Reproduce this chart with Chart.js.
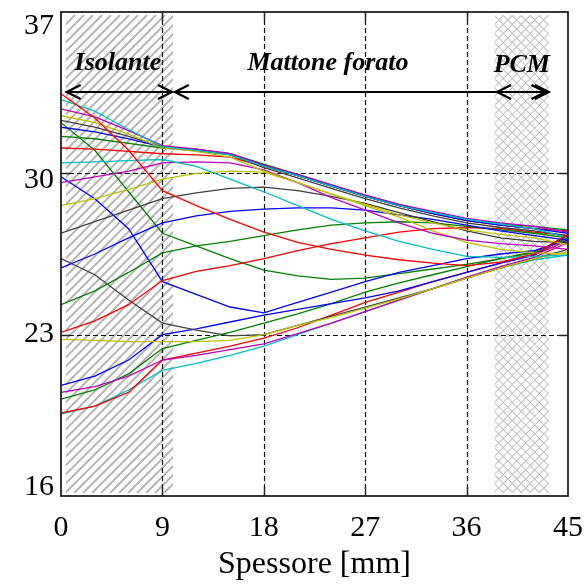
<!DOCTYPE html>
<html>
<head>
<meta charset="utf-8">
<title>Profili di temperatura nella parete</title>
<script src="https://cdn.jsdelivr.net/npm/chart.js@4.4.1/dist/chart.umd.min.js"></script>
<style>
  body { margin: 0; background: #fff; }
  #wrap { width: 586px; height: 585px; }
</style>
</head>
<body>
<div id="wrap"><canvas id="profiliChart" width="586" height="585"></canvas></div>
<script>
// ============================
// Data
// ============================
const spessore = [0, 3, 6, 9, 12, 15, 18, 21, 24, 27, 30, 33, 36, 39, 42, 45];
const xTicks = [0, 9, 18, 27, 36, 45];
const yTicks = [16, 23, 30, 37];

const colori = [
  "#ff0000", "#00bfbf", "#bf00bf", "#bfbf00", "#404040", "#0000ff", "#008000", "#ff0000",
  "#00bfbf", "#bf00bf", "#bfbf00", "#404040", "#0000ff", "#008000", "#ff0000", "#bfbf00",
  "#404040", "#0000ff", "#008000", "#0000ff", "#bf00bf", "#008000", "#ff0000", "#00bfbf"
];

// one temperature profile per hour, values at each node of spessore
const profili = [
  [33.45, 32.4, 31.0, 29.25, 28.6, 28.0, 27.45, 27.0, 26.7, 26.45, 26.25, 26.1, 26.0, 26.15, 26.5, 27.35],
  [33.2, 32.7, 31.9, 31.15, 31.0, 30.8, 30.3, 29.9, 29.45, 29.0, 28.6, 28.3, 28.0, 27.8, 27.6, 27.2],
  [32.8, 32.45, 31.85, 31.2, 31.05, 30.85, 30.35, 29.95, 29.5, 29.05, 28.65, 28.35, 28.05, 27.85, 27.7, 27.45],
  [32.5, 32.2, 31.7, 31.1, 30.95, 30.7, 30.1, 29.6, 29.1, 28.65, 28.2, 27.85, 27.55, 27.35, 27.2, 26.9],
  [32.3, 32.0, 31.6, 31.15, 31.0, 30.8, 30.25, 29.8, 29.35, 28.9, 28.5, 28.15, 27.85, 27.65, 27.5, 27.3],
  [32.0, 31.8, 31.5, 31.15, 31.05, 30.85, 30.35, 29.9, 29.45, 29.0, 28.6, 28.25, 27.95, 27.75, 27.6, 27.4],
  [31.6, 31.5, 31.3, 31.1, 31.0, 30.85, 30.4, 29.95, 29.5, 29.05, 28.65, 28.3, 28.0, 27.8, 27.7, 27.55],
  [31.1, 31.05, 30.95, 30.85, 30.8, 30.7, 30.3, 29.9, 29.45, 29.0, 28.6, 28.25, 27.95, 27.75, 27.6, 27.5],
  [30.45, 30.5, 30.55, 30.6, 30.3, 29.75, 29.2, 28.6, 28.0, 27.5, 27.05, 26.7, 26.4, 26.35, 26.4, 26.45],
  [29.6, 29.85, 30.1, 30.45, 30.5, 30.45, 30.15, 29.6, 28.95, 28.4, 27.85, 27.4, 27.1, 26.95, 26.85, 26.7],
  [28.6, 28.9, 29.3, 29.75, 30.0, 30.1, 30.05, 29.6, 29.1, 28.6, 28.1, 27.5, 27.0, 26.7, 26.55, 26.5],
  [27.4, 27.9, 28.4, 28.9, 29.15, 29.35, 29.4, 29.25, 29.0, 28.7, 28.3, 27.9, 27.5, 27.2, 27.05, 27.0],
  [25.9, 26.5, 27.2, 27.85, 28.15, 28.35, 28.45, 28.5, 28.5, 28.4, 28.2, 28.0, 27.75, 27.5, 27.3, 27.1],
  [24.3, 24.9, 25.7, 26.55, 26.85, 27.05, 27.3, 27.55, 27.75, 27.85, 27.9, 27.85, 27.7, 27.55, 27.4, 27.2],
  [23.1, 23.6, 24.3, 25.35, 25.75, 26.0, 26.3, 26.65, 26.95, 27.2, 27.45, 27.6, 27.65, 27.6, 27.45, 27.3],
  [22.8, 22.75, 22.7, 22.7, 22.7, 22.75, 23.0, 23.4, 23.75, 24.15, 24.55, 25.0, 25.45, 25.9, 26.3, 26.6],
  [26.3, 25.6, 24.5, 23.5, 23.2, 22.95, 23.0, 23.4, 23.8, 24.2, 24.6, 25.0, 25.45, 25.9, 26.3, 26.7],
  [29.85, 28.9, 27.6, 25.3, 24.75, 24.2, 23.95, 24.4, 24.85, 25.3, 25.7, 26.0, 26.3, 26.5, 26.65, 27.1],
  [32.2, 31.0, 29.2, 27.4, 26.85, 26.3, 25.8, 25.55, 25.4, 25.45, 25.65, 25.85, 26.05, 26.3, 26.55, 27.2],
  [20.8, 21.2, 21.9, 23.0, 23.25, 23.55, 23.85, 24.1, 24.35, 24.6, 24.9, 25.3, 25.7, 26.1, 26.45, 27.3],
  [20.5, 20.75, 21.2, 21.9, 22.1, 22.35, 22.6, 23.05, 23.5, 24.0, 24.5, 25.0, 25.5, 25.95, 26.35, 27.0],
  [20.2, 20.6, 21.3, 22.4, 22.75, 23.1, 23.5, 23.9, 24.35, 24.85, 25.25, 25.6, 25.95, 26.3, 26.6, 27.2],
  [19.6, 19.9, 20.5, 21.9, 22.2, 22.5, 22.85, 23.3, 23.85, 24.4, 24.85, 25.3, 25.7, 26.1, 26.45, 27.1],
  [19.55, 19.9, 20.6, 21.45, 21.75, 22.1, 22.5, 23.0, 23.5, 24.0, 24.5, 25.0, 25.45, 25.9, 26.25, 26.45]
];

// ============================
// Wall layers (mm) and labels
// ============================
const isolante = [0.45, 9.95];
const pcm = [38.5, 43.3];
const strati = [
  { nome: "Isolante", x: 5.05, from: 0.5, to: 9.85 },
  { nome: "Mattone forato", x: 23.7, from: 10.1, to: 43.0 },
  { nome: "PCM", x: 40.9, from: 38.7, to: 43.3 }
];

const serif = "'Liberation Serif', 'Times New Roman', serif";

// ============================
// Helpers
// ============================
function drawArrow(ctx, xa, xb, y, size) {
  ctx.beginPath();
  ctx.moveTo(xa, y);
  ctx.lineTo(xb, y);
  ctx.moveTo(xa + size, y - size / 2);
  ctx.lineTo(xa, y);
  ctx.lineTo(xa + size, y + size / 2);
  ctx.moveTo(xb - size, y - size / 2);
  ctx.lineTo(xb, y);
  ctx.lineTo(xb - size, y + size / 2);
  ctx.stroke();
}

const wallPlugin = {
  id: "wall",
  beforeDatasetsDraw(chart) {
    const { ctx, chartArea: a, scales: { x, y } } = chart;
    const top = a.top + 3, bot = a.bottom - 3, h = bot - top;

    // insulation: diagonal stripes
    const i0 = x.getPixelForValue(isolante[0]), i1 = x.getPixelForValue(isolante[1]);
    ctx.save();
    ctx.beginPath();
    ctx.rect(i0, top, i1 - i0, h);
    ctx.clip();
    ctx.strokeStyle = "#b4b4b4";
    ctx.lineWidth = 2;
    ctx.beginPath();
    for (let k = i0 - h; k < i1 + 10; k += 9) {
      ctx.moveTo(k, bot);
      ctx.lineTo(k + h, top);
    }
    ctx.stroke();
    ctx.restore();

    // PCM: cross hatch
    const p0 = x.getPixelForValue(pcm[0]), p1 = x.getPixelForValue(pcm[1]);
    ctx.save();
    ctx.beginPath();
    ctx.rect(p0, top, p1 - p0, h);
    ctx.clip();
    ctx.strokeStyle = "#c4c4c4";
    ctx.lineWidth = 1.2;
    ctx.beginPath();
    for (let k = p0 - h; k < p1 + 10; k += 9) {
      ctx.moveTo(k, bot);
      ctx.lineTo(k + h, top);
      ctx.moveTo(k, top);
      ctx.lineTo(k + h, bot);
    }
    ctx.stroke();
    ctx.restore();

    // dashed grid
    ctx.save();
    ctx.strokeStyle = "#111";
    ctx.lineWidth = 1.2;
    ctx.setLineDash([5, 3]);
    ctx.beginPath();
    xTicks.slice(1, -1).forEach((v) => {
      const px = Math.round(x.getPixelForValue(v)) + 0.5;
      ctx.moveTo(px, a.top);
      ctx.lineTo(px, a.bottom);
    });
    yTicks.slice(1, -1).forEach((v) => {
      const py = Math.round(y.getPixelForValue(v)) + 0.5;
      ctx.moveTo(a.left, py);
      ctx.lineTo(a.right, py);
    });
    ctx.stroke();
    ctx.restore();
  },
  afterDraw(chart) {
    const { ctx, chartArea: a, scales: { x, y } } = chart;
    ctx.save();

    // frame and inner ticks
    ctx.strokeStyle = "#222";
    ctx.lineWidth = 1.8;
    ctx.strokeRect(a.left, a.top, a.right - a.left, a.bottom - a.top);
    ctx.lineWidth = 1.4;
    ctx.beginPath();
    xTicks.slice(1, -1).forEach((v) => {
      const px = Math.round(x.getPixelForValue(v)) + 0.5;
      ctx.moveTo(px, a.bottom); ctx.lineTo(px, a.bottom - 9);
      ctx.moveTo(px, a.top); ctx.lineTo(px, a.top + 9);
    });
    yTicks.slice(1, -1).forEach((v) => {
      const py = Math.round(y.getPixelForValue(v)) + 0.5;
      ctx.moveTo(a.left, py); ctx.lineTo(a.left + 9, py);
      ctx.moveTo(a.right, py); ctx.lineTo(a.right - 9, py);
    });
    ctx.stroke();

    // y tick labels (spread a bit closer to the middle, like the original)
    const mid = (a.top + a.bottom) / 2;
    ctx.fillStyle = "#000";
    ctx.font = "30px " + serif;
    ctx.textAlign = "right";
    ctx.textBaseline = "middle";
    yTicks.forEach((v) => {
      const py = y.getPixelForValue(v);
      ctx.fillText(String(v), a.left - 7, py + (mid - py) * 0.048 + 3);
    });

    // layer arrows and names
    const yArrow = y.getPixelForValue(33.53);
    const yText = y.getPixelForValue(34.48);
    ctx.strokeStyle = "#000";
    ctx.lineWidth = 2.2;
    strati.forEach((s) => {
      drawArrow(ctx, x.getPixelForValue(s.from), x.getPixelForValue(s.to), yArrow, 14);
    });
    ctx.font = "bold italic 26px " + serif;
    ctx.textAlign = "center";
    ctx.textBaseline = "alphabetic";
    strati.forEach((s) => {
      ctx.fillText(s.nome, x.getPixelForValue(s.x), yText + (s.nome === "PCM" ? 2 : 0));
    });
    ctx.restore();
  }
};

// ============================
// Chart
// ============================
const datasets = profili.map((temps, i) => ({
  data: temps.map((t, j) => ({ x: spessore[j], y: t })),
  borderColor: colori[i],
  borderWidth: 1.3,
  pointRadius: 0,
  tension: 0,
  fill: false
}));

new Chart(document.getElementById("profiliChart"), {
  type: "line",
  data: { datasets },
  plugins: [wallPlugin],
  options: {
    responsive: false,
    animation: false,
    layout: { padding: { left: 0, right: 18, top: 12, bottom: 0 } },
    plugins: { legend: { display: false }, tooltip: { enabled: false } },
    scales: {
      x: {
        type: "linear",
        min: 0,
        max: 45,
        afterBuildTicks: (s) => { s.ticks = xTicks.map((v) => ({ value: v })); },
        afterFit: (s) => { s.height = 89; s.paddingLeft = 0; s.paddingRight = 0; },
        grid: { display: false, drawTicks: false },
        border: { display: false },
        ticks: { color: "#000", font: { family: serif, size: 30 }, padding: 14, maxRotation: 0 },
        title: { display: true, text: "Spessore [mm]", color: "#000", font: { family: serif, size: 32 }, padding: { top: 0, bottom: 1 } }
      },
      y: {
        type: "linear",
        min: 16,
        max: 37,
        afterFit: (s) => { s.width = 61; },
        grid: { display: false, drawTicks: false },
        border: { display: false },
        ticks: { display: false }
      }
    }
  }
});
</script>
</body>
</html>
